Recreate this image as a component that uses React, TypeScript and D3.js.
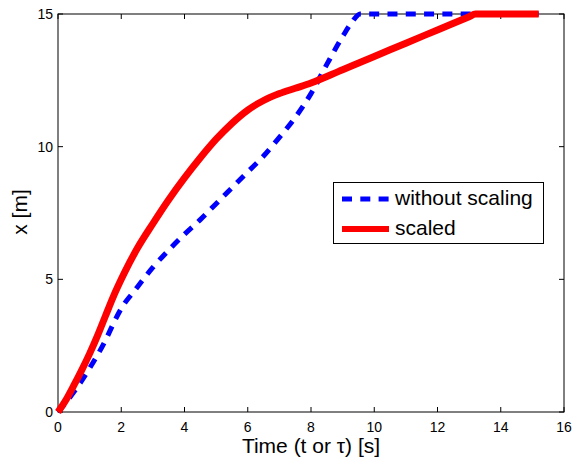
import React from "react";
import * as d3 from "d3";

const xTicks = [0, 2, 4, 6, 8, 10, 12, 14, 16];
const yTicks = [0, 5, 10, 15];

const blueT = [0, 0.5, 1, 1.5, 1.8, 2, 2.44, 3, 3.5, 4, 4.5, 5, 5.5, 6, 6.5, 7, 7.5, 8, 8.5, 9, 9.3, 9.55, 12, 15.2];
const blueX = [0, 0.75, 1.65, 2.7, 3.45, 3.9, 4.6, 5.45, 6.1, 6.7, 7.25, 7.85, 8.45, 9.05, 9.65, 10.35, 11.1, 12.0, 13.1, 14.15, 14.7, 15, 15, 15];

const redT = [0, 0.25, 0.5, 0.75, 1, 1.25, 1.5, 1.75, 2, 2.25, 2.5, 3, 3.5, 4, 4.5, 5, 5.5, 6, 6.5, 7, 7.5, 8, 9, 10, 11, 12, 13, 13.2, 15.2];
const redX = [0, 0.45, 1.0, 1.58, 2.2, 2.88, 3.62, 4.35, 5.0, 5.6, 6.15, 7.1, 8.0, 8.82, 9.58, 10.28, 10.88, 11.38, 11.74, 12.0, 12.2, 12.4, 12.9, 13.4, 13.9, 14.4, 14.9, 15, 15];

const legendLabels = ["without scaling", "scaled"];

const FONT = "'Liberation Sans', Arial, Helvetica, sans-serif";

export default function App() {
  const W = 574, H = 464;
  const L = 58, R = 564, T = 14, B = 412;
  const x = d3.scaleLinear().domain([0, 16]).range([L, R]);
  const y = d3.scaleLinear().domain([0, 15]).range([B, T]);
  const line = d3
    .line<[number, number]>()
    .x((d) => x(d[0]))
    .y((d) => y(d[1]))
    .curve(d3.curveMonotoneX);
  const blue = blueT.map((t, i) => [t, blueX[i]] as [number, number]);
  const red = redT.map((t, i) => [t, redX[i]] as [number, number]);

  return (
    <svg width={W} height={H} style={{ position: "absolute", left: 0, top: 0 }} fontFamily={FONT}>
      <rect x={0} y={0} width={W} height={H} fill="#fff" />
      {xTicks.map((t) => (
        <g key={"xt" + t}>
          <line x1={x(t)} x2={x(t)} y1={B} y2={B - 5} stroke="#000" strokeWidth={1} />
          <line x1={x(t)} x2={x(t)} y1={T} y2={T + 5} stroke="#000" strokeWidth={1} />
          <text x={x(t)} y={432} textAnchor="middle" fontSize={14} fill="#000">
            {t}
          </text>
        </g>
      ))}
      {yTicks.map((t) => (
        <g key={"yt" + t}>
          <line x1={L} x2={L + 5} y1={y(t)} y2={y(t)} stroke="#000" strokeWidth={1} />
          <line x1={R} x2={R - 5} y1={y(t)} y2={y(t)} stroke="#000" strokeWidth={1} />
          <text x={53} y={y(t) + 5} textAnchor="end" fontSize={14} fill="#000">
            {t}
          </text>
        </g>
      ))}
      <rect x={L} y={T} width={R - L} height={B - T} fill="none" stroke="#000" strokeWidth={1} />
      <path d={line(blue) || ""} fill="none" stroke="#0000ff" strokeWidth={5} strokeDasharray="10,8.3" />
      <path d={line(red) || ""} fill="none" stroke="#ff0000" strokeWidth={7} strokeLinejoin="round" />
      <text x={(L + R) / 2} y={453} textAnchor="middle" fontSize={21} fill="#000">
        Time (t or τ) [s]
      </text>
      <text transform={`translate(27,212) rotate(-90)`} textAnchor="middle" fontSize={21} fill="#000">
        x [m]
      </text>
      <rect x={333.5} y={182.5} width={210} height={61} fill="#fff" stroke="#000" strokeWidth={1} />
      <line x1={342} x2={389} y1={199} y2={199} stroke="#0000ff" strokeWidth={5} strokeDasharray="10,8.3" />
      <line x1={342} x2={389} y1={229} y2={229} stroke="#ff0000" strokeWidth={6} />
      <text x={395} y={205} fontSize={21} fill="#000">{legendLabels[0]}</text>
      <text x={395} y={235} fontSize={21} fill="#000">{legendLabels[1]}</text>
    </svg>
  );
}
